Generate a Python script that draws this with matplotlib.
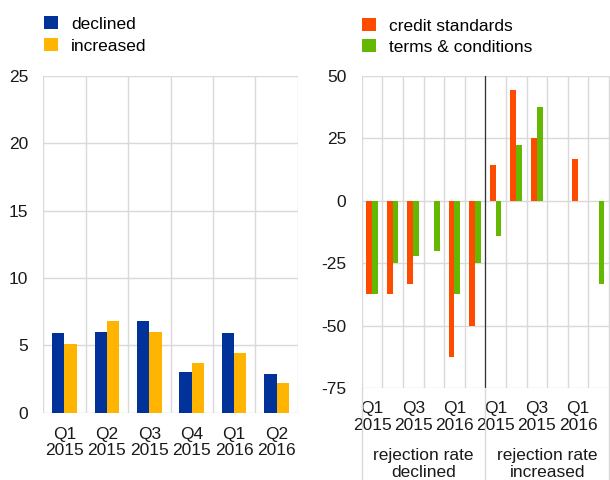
import numpy as np
import matplotlib
matplotlib.use("Agg")
import matplotlib.pyplot as plt
from matplotlib.transforms import blended_transform_factory

plt.rcParams['font.family'] = ['Liberation Sans', 'DejaVu Sans']
plt.rcParams['font.size'] = 12.5
plt.rcParams['axes.unicode_minus'] = False

# left panel: share of banks
quarters = ["Q1\n2015", "Q2\n2015", "Q3\n2015", "Q4\n2015", "Q1\n2016", "Q2\n2016"]
declined = [5.9, 6.0, 6.8, 3.0, 5.9, 2.9]
increased = [5.1, 6.8, 6.0, 3.7, 4.4, 2.2]

# right panel: net percentages by rejection rate group
groups = ["rejection rate\ndeclined", "rejection rate\nincreased"]
right_ticks = ["Q1\n2015", "", "Q3\n2015", "", "Q1\n2016", ""]
credit_standards = [-37.5, -37.5, -33.3, 0, -62.5, -50.0,
                    14.3, 44.4, 25.0, 0, 16.7, 0]
terms_conditions = [-37.5, -25.0, -22.2, -20.0, -37.5, -25.0,
                    -14.3, 22.2, 37.5, 0, 0, -33.3]

c_blue = '#003299'
c_yellow = '#ffb400'
c_orange = '#ff4b00'
c_green = '#65b800'
c_grid = '#d9d9d9'
c_text = '#1a1a1a'
fs = 12.5

W, H = 610, 480
fig = plt.figure(figsize=(W / 100, H / 100), dpi=100)


def px_axes(x0, y_top, x1, y_bot):
    return fig.add_axes([x0 / W, 1 - y_bot / H, (x1 - x0) / W, (y_bot - y_top) / H])


def style(ax, n):
    for s in ax.spines.values():
        s.set_visible(False)
    ax.set_xlim(-0.5, n - 0.5)
    ax.set_xticks(np.arange(-0.5, n, 1.0), minor=True)
    ax.grid(True, which='major', axis='y', color=c_grid, lw=1)
    ax.grid(True, which='minor', axis='x', color=c_grid, lw=1)
    ax.set_axisbelow(True)
    ax.tick_params(which='both', length=0, colors=c_text, labelsize=fs)


# ---- left
ax1 = px_axes(43.3, 76, 297.7, 412.7)
x = np.arange(len(quarters))
bw = 0.29
ax1.bar(x - bw / 2, declined, bw, color=c_blue, label='declined')
ax1.bar(x + bw / 2, increased, bw, color=c_yellow, label='increased')
style(ax1, len(quarters))
ax1.set_ylim(0, 25)
ax1.set_yticks([0, 5, 10, 15, 20, 25])
ax1.set_xticks(x)
ax1.set_xticklabels(quarters, linespacing=1.15)
ax1.tick_params(axis='x', pad=10)
ax1.tick_params(axis='y', pad=11)
ax1.legend(loc='upper left', bbox_to_anchor=(39 / W, 1 - 11 / H), bbox_transform=fig.transFigure,
           frameon=False, handlelength=0.8, handleheight=0.8, handletextpad=0.75,
           labelspacing=0.35, fontsize=fs, borderaxespad=0, borderpad=0.3)

# ---- right
ax2 = px_axes(361.7, 75.5, 610, 388.3)
n = len(credit_standards)
xr = np.arange(n)
bw2 = 0.28
ax2.bar(xr - bw2 / 2, credit_standards, bw2, color=c_orange, label='credit standards')
ax2.bar(xr + bw2 / 2, terms_conditions, bw2, color=c_green, label='terms & conditions')
style(ax2, n)
ax2.set_xlim(-0.5, n - 0.5 + 0.05)
ax2.set_ylim(-75, 50)
ax2.set_yticks([-75, -50, -25, 0, 25, 50])
ax2.set_xticks(xr)
ax2.set_xticklabels(right_ticks * 2, linespacing=1.15)
ax2.tick_params(axis='x', pad=9)
ax2.tick_params(axis='y', pad=11)
ax2.axvline(5.5, color='#333333', lw=0.9)
trans = blended_transform_factory(ax2.transData, ax2.transAxes)
for xv in [-0.5, 5.5, 11.5]:
    ax2.plot([xv, xv], [0, -0.4], color=c_grid, lw=1, transform=trans, clip_on=False)
for i, g in enumerate(groups):
    ax2.text(i * 6 + 2.5, -0.292, g, transform=trans, ha='center', va='bottom',
             fontsize=fs, color=c_text, linespacing=1.15)
ax2.legend(loc='upper left', bbox_to_anchor=(357 / W, 1 - 13 / H), bbox_transform=fig.transFigure,
           frameon=False, handlelength=0.8, handleheight=0.8, handletextpad=0.75,
           labelspacing=0.3, fontsize=fs, borderaxespad=0, borderpad=0.3)

fig.savefig('out.png', dpi=100)
